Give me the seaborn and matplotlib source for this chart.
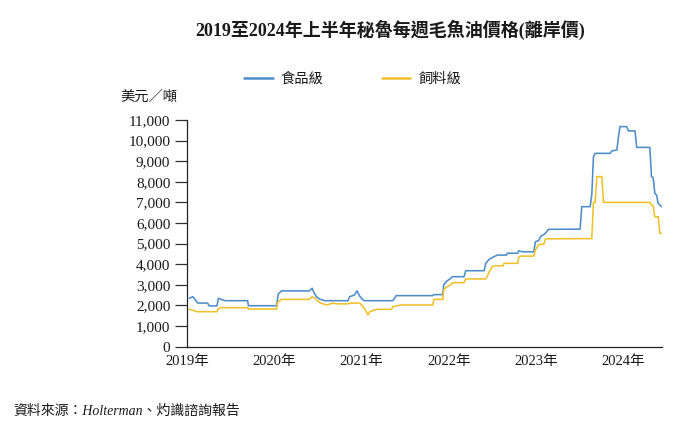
import numpy as np
import pandas as pd
import seaborn as sns
import matplotlib
matplotlib.use("Agg")
import matplotlib.pyplot as plt
from matplotlib.lines import Line2D

# ---------------- data ----------------
food_dates = ["2019-01-11", "2019-01-25", "2019-02-03", "2019-02-15", "2019-03-28", "2019-04-04",
              "2019-05-06", "2019-05-13", "2019-05-31", "2019-06-10", "2019-09-12", "2019-09-15",
              "2020-01-11", "2020-01-18", "2020-02-01", "2020-05-27", "2020-06-08", "2020-06-16",
              "2020-06-26", "2020-07-10", "2020-07-31", "2020-11-05", "2020-11-12", "2020-12-02",
              "2020-12-13", "2020-12-24", "2021-01-07", "2021-01-14", "2021-05-12", "2021-05-26",
              "2021-10-26", "2021-10-31", "2021-12-07", "2021-12-11", "2021-12-21", "2022-01-03",
              "2022-01-17", "2022-03-06", "2022-03-13", "2022-05-29", "2022-06-05", "2022-06-19",
              "2022-07-09", "2022-07-24", "2022-08-31", "2022-09-03", "2022-10-17", "2022-10-21",
              "2022-11-04", "2022-12-23", "2022-12-30", "2023-01-13", "2023-01-20", "2023-02-10",
              "2023-02-23", "2023-07-05", "2023-07-12", "2023-08-16", "2023-08-23", "2023-08-30",
              "2023-09-06", "2023-11-08", "2023-11-15", "2023-12-06", "2023-12-12", "2023-12-19",
              "2024-01-16", "2024-01-23", "2024-02-20", "2024-02-27", "2024-04-22", "2024-04-29",
              "2024-05-06", "2024-05-13", "2024-05-20", "2024-05-27", "2024-06-10"]
food_values = [2340, 2420, 2300, 2110, 2110, 1970,
               1970, 2340, 2260, 2225, 2225, 1980,
               1980, 2550, 2700, 2700, 2830, 2610,
               2420, 2300, 2225, 2225, 2420, 2500,
               2700, 2450, 2260, 2225, 2225, 2470,
               2470, 2520, 2520, 2990, 3150, 3260,
               3390, 3390, 3680, 3680, 4040, 4230,
               4360, 4440, 4440, 4530, 4530, 4650,
               4600, 4600, 5090, 5150, 5330, 5500,
               5690, 5700, 6790, 6790, 7360, 9220,
               9380, 9380, 9500, 9540, 10110, 10680,
               10680, 10470, 10470, 9670, 9670, 8250,
               8200, 7440, 7360, 6950, 6790]

feed_dates = ["2019-01-11", "2019-01-30", "2019-02-10", "2019-05-06", "2019-05-11", "2019-05-20",
              "2019-09-12", "2019-09-15", "2020-01-11", "2020-01-15", "2020-02-01", "2020-05-27",
              "2020-06-08", "2020-06-20", "2020-07-10", "2020-08-07", "2020-08-21", "2020-09-04",
              "2020-09-18", "2020-11-05", "2020-11-15", "2020-12-24", "2021-01-07", "2021-01-21",
              "2021-01-28", "2021-02-04", "2021-02-18", "2021-03-04", "2021-05-06", "2021-05-12",
              "2021-06-15", "2021-10-26", "2021-10-31", "2021-12-07", "2021-12-11", "2021-12-21",
              "2022-01-09", "2022-01-17", "2022-03-06", "2022-03-13", "2022-06-05", "2022-06-12",
              "2022-06-22", "2022-07-02", "2022-07-09", "2022-08-17", "2022-08-20", "2022-10-17",
              "2022-10-21", "2022-10-28", "2022-12-23", "2022-12-30", "2023-01-13", "2023-02-03",
              "2023-02-10", "2023-08-23", "2023-08-30", "2023-09-06", "2023-09-13", "2023-10-04",
              "2023-10-11", "2024-04-22", "2024-04-29", "2024-05-06", "2024-05-13", "2024-05-27",
              "2024-06-03", "2024-06-11"]
feed_values = [1805, 1740, 1690, 1690, 1805, 1885,
               1885, 1820, 1820, 2130, 2290, 2290,
               2420, 2340, 2130, 2015, 2060, 2110,
               2070, 2070, 2110, 2110, 1935, 1690,
               1530, 1690, 1740, 1805, 1805, 1935,
               2015, 2015, 2290, 2290, 2740, 2870,
               2990, 3100, 3100, 3280, 3280, 3420,
               3680, 3880, 3920, 3920, 4040, 4040,
               4330, 4390, 4390, 4690, 4960, 4960,
               5230, 5240, 7000, 7000, 8250, 8250,
               7000, 7000, 6870, 6840, 6300, 6300,
               5500, 5500]

series_names = ["食品級", "飼料級"]
year_ticks = ["2019", "2020", "2021", "2022", "2023", "2024"]
year_labels = ["2019年", "2020年", "2021年", "2022年", "2023年", "2024年"]
y_ticks = [0, 1000, 2000, 3000, 4000, 5000, 6000, 7000, 8000, 9000, 10000, 11000]

title = "2019至2024年上半年秘魯每週毛魚油價格(離岸價)"
y_unit = "美元／噸"
source = "資料來源：Holterman、灼識諮詢報告"

# ---------------- table ----------------
df = pd.concat([
    pd.DataFrame({"date": pd.to_datetime(food_dates), "price": food_values, "grade": series_names[0]}),
    pd.DataFrame({"date": pd.to_datetime(feed_dates), "price": feed_values, "grade": series_names[1]}),
], ignore_index=True)

# ---------------- style ----------------
sns.set_theme(style="white")
plt.rcParams["font.family"] = ["Liberation Serif", "Noto Sans CJK TC", "DejaVu Sans"]
plt.rcParams["axes.unicode_minus"] = False

colors = {series_names[0]: "#4e8dca", series_names[1]: "#f1c12b"}
text_color = "#1a1a1a"

W, H = 681, 424
fig = plt.figure(figsize=(W / 100, H / 100), dpi=100)
ax = fig.add_axes([187 / W, 1 - 346.5 / H, (662 - 187) / W, (346.5 - 120) / H])

sns.lineplot(data=df, x="date", y="price", hue="grade", palette=colors,
             linewidth=1.15, legend=False, ax=ax, estimator=None, sort=True)

ax.set_xlim(pd.Timestamp("2019-01-01"), pd.Timestamp("2024-06-12"))
ax.set_ylim(0, 11000)
ax.set_xlabel("")
ax.set_ylabel("")

ax.set_yticks(y_ticks)
ax.set_yticklabels([f"{v:,}" for v in y_ticks], fontsize=11, color=text_color)
ax.set_xticks(pd.to_datetime([f"{y}-01-01" for y in year_ticks]))
ax.set_xticklabels(year_labels, fontsize=10.5, color=text_color)

ax.tick_params(axis="y", which="major", direction="out", length=8.5, width=0.9,
               color="#333333", pad=3.5, left=True)
ax.tick_params(axis="x", which="major", length=0, pad=6)

for side in ["top", "right"]:
    ax.spines[side].set_visible(False)
for side in ["left", "bottom"]:
    ax.spines[side].set_color("#222222")
    ax.spines[side].set_linewidth(0.9)

# legend
handles = [Line2D([0], [0], color=colors[n], lw=1.8) for n in series_names]
fig.legend(handles, series_names, loc="center left",
           bbox_to_anchor=(244 / W, 1 - 79 / H), ncol=2, frameon=False,
           borderpad=0, borderaxespad=0, handlelength=2.0, handletextpad=0.55,
           columnspacing=4.1, prop={"family": ["Noto Sans CJK TC"], "size": 10.3},
           labelcolor=text_color)

# texts
fig.text(390 / W, 1 - 30 / H, title, ha="center", va="center", fontsize=13,
         fontweight="bold", color=text_color,
         family=["Liberation Serif", "Noto Sans CJK TC"])
fig.text(120 / W, 1 - 97 / H, y_unit, ha="left", va="center", fontsize=10.3,
         color=text_color, family=["Noto Sans CJK TC"])
fig.text(13 / W, 1 - 411 / H, source, ha="left", va="center", fontsize=10,
         color=text_color, style="italic",
         family=["Liberation Serif", "Noto Sans CJK TC"])

fig.savefig("out.png", dpi=100)
